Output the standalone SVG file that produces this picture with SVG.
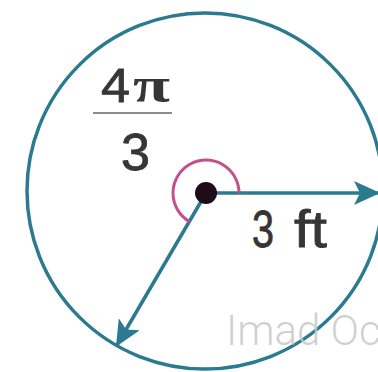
<svg xmlns="http://www.w3.org/2000/svg" width="378" height="372" viewBox="0 0 378 372">
<style>
.teal{stroke:#2b7a8f;fill:none;stroke-width:3.5}
.lbl{font-family:"Liberation Sans",Arial,sans-serif;fill:#363636;stroke:#363636;stroke-width:0.8}
</style>
<defs>
<marker id="ah" markerWidth="26" markerHeight="24" refX="24" refY="12" orient="auto" markerUnits="userSpaceOnUse" viewBox="0 0 26 24">
<path d="M0,0 L26,12 L0,24 L6,12 Z" fill="#2b7a8f"/>
</marker>
</defs>
<rect width="378" height="372" fill="#ffffff"/>
<g id="circle">
<circle cx="205" cy="191" r="178" class="teal"/>
</g>
<g id="connectors">
<line x1="206" y1="193" x2="378" y2="193" class="teal" marker-end="url(#ah)"/>
<line x1="206" y1="193" x2="117" y2="345" class="teal" marker-end="url(#ah)"/>
<path d="M239,193 A33,33 0 1 0 189.5,221.6" fill="none" stroke="#c2508e" stroke-width="3"/>
</g>
<g id="center">
<circle cx="206" cy="193" r="11" fill="#1e0c18"/>
</g>
<g id="angle-label">
<text class="lbl" x="101" y="102" font-size="49" textLength="29" lengthAdjust="spacingAndGlyphs">4</text>
<text x="133" y="102" font-family="'Liberation Serif','Times New Roman',serif" font-weight="bold" font-size="50" fill="#363636" textLength="37" lengthAdjust="spacingAndGlyphs">π</text>
<line x1="93" y1="113" x2="172" y2="113" stroke="#666" stroke-width="1.5"/>
<text class="lbl" x="121" y="170" font-size="52" textLength="29" lengthAdjust="spacingAndGlyphs">3</text>
</g>
<g id="radius-label">
<text class="lbl" x="252" y="247" font-size="52" textLength="22" lengthAdjust="spacingAndGlyphs">3</text>
<text class="lbl" x="294" y="247" font-size="52" textLength="33" lengthAdjust="spacingAndGlyphs">ft</text>
</g>
<text x="226" y="345" font-family="Roboto,'Liberation Sans',sans-serif" font-weight="300" font-size="42" fill="#c8c8c8" fill-opacity="0.85">Imad Oc</text>
</svg>
